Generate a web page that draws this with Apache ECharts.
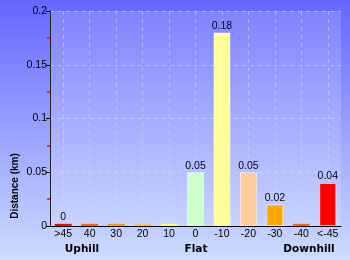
<!DOCTYPE html>
<html><head><meta charset="utf-8">
<script src="https://cdn.jsdelivr.net/npm/echarts@6/dist/echarts.min.js"></script>
<style>html,body{margin:0;padding:0;}#c{width:350px;height:260px;}</style>
</head><body><div id="c"></div>
<script>
var categories = ['>45','40','30','20','10','0','-10','-20','-30','-40','<-45'];
var distances = [0.002,0.002,0.002,0.002,0.002,0.05,0.18,0.05,0.02,0.002,0.04];
var valueLabels = ['0','','','','','0.05','0.18','0.05','0.02','','0.04'];
var barColors = ['#ff0000','#ff6600','#ff9900','#ffbb66','#ffff66','#ccffcc','#ffff99','#ffcc99','#ffa500','#ff6600','#ff0000'];
var yTicks = [0,0.05,0.1,0.15,0.2];
var sections = [{text:'Uphill',x:82},{text:'Flat',x:196},{text:'Downhill',x:309}];

var half = [];
for (var i = 0; i < categories.length*2+1; i++) half.push(String(i));

var chart = echarts.init(document.getElementById('c'), null, {renderer:'canvas'});
var graphics = [];
graphics.push({type:'rect', left:0, top:0, z:-10, shape:{width:350,height:260},
  style:{fill:new echarts.graphic.LinearGradient(0,0,0,1,[{offset:0,color:'#6666ff'},{offset:1,color:'#cddcff'}])}});
graphics.push({type:'rect', left:50, top:11, z:-9, shape:{width:291,height:215},
  style:{fill:'rgba(255,255,255,0.16)'}});
sections.forEach(function(s){
  graphics.push({type:'text', x:s.x, y:249, style:{text:s.text, fill:'#000', font:'bold 10.5px "DejaVu Sans"', textAlign:'center', textVerticalAlign:'middle'}});
});
graphics.push({type:'text', x:15, y:186, rotation:Math.PI/2, style:{text:'Distance (km)', fill:'#000', font:'bold 10px "Liberation Sans"', textAlign:'center', textVerticalAlign:'middle'}});

var lbl = {fontFamily:'Liberation Sans', fontSize:10.5, color:'#000'};
chart.setOption({
  animation:false,
  graphic:graphics,
  grid:{left:50,right:9,top:11,bottom:34,containLabel:false},
  xAxis:[{
    type:'category', data:categories,
    axisLine:{lineStyle:{color:'#000',width:1}},
    axisTick:{show:false},
    axisLabel:{color:'#000',fontSize:10.5,fontFamily:'Liberation Sans',margin:3,interval:0},
    splitLine:{show:false}
  },{
    type:'category', data:half, boundaryGap:false, position:'bottom',
    axisLine:{show:false}, axisTick:{show:false}, axisLabel:{show:false},
    splitLine:{show:true, interval:function(idx){return idx%2===1;}, lineStyle:{color:'rgba(215,220,255,0.55)',type:[4,4],width:1}}
  }],
  yAxis:{
    type:'value', min:0, max:0.2, interval:0.05,
    axisLine:{show:true,lineStyle:{color:'#222',width:1}},
    axisTick:{show:true,length:4,lineStyle:{color:'#000'}},
    minorTick:{show:true,splitNumber:2,length:3,lineStyle:{color:'#ff0000',width:1.5}},
    axisLabel:{color:'#000',fontSize:10.5,fontFamily:'Liberation Sans',margin:3,
      formatter:function(v){return String(+v.toFixed(2));}},
    splitLine:{show:true,lineStyle:{color:'rgba(215,220,255,0.55)',type:[4,4],width:1}}
  },
  series:[{
    type:'bar', xAxisIndex:0,
    barWidth:'64%',
    data:distances.map(function(v,i){return {value:v,itemStyle:{color:barColors[i],
      borderColor:v>0.005?'rgba(255,255,255,0.5)':barColors[i],borderWidth:v>0.005?1:0},
      label:{show:valueLabels[i]!=='',formatter:valueLabels[i]}};}),
    label:{position:'top',distance:1,color:'#000022',fontSize:10.5,fontFamily:'Liberation Sans'}
  }]
});
</script></body></html>
